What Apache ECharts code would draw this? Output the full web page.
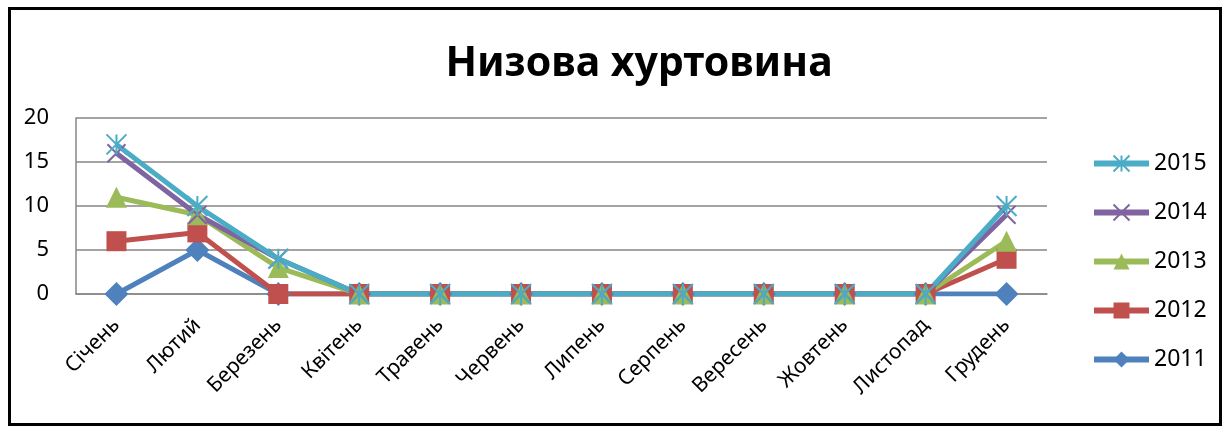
<!DOCTYPE html>
<html>
<head>
<meta charset="utf-8">
<script src="https://cdn.jsdelivr.net/npm/echarts@6/dist/echarts.min.js"></script>
<style>
  html, body { margin: 0; padding: 0; background: #fff; }
  #chart { width: 1228px; height: 426px; }
</style>
</head>
<body>
<div id="chart"></div>
<script>
// Months (Ukrainian)
const months = ['Січень', 'Лютий', 'Березень', 'Квітень', 'Травень', 'Червень',
                'Липень', 'Серпень', 'Вересень', 'Жовтень', 'Листопад', 'Грудень'];

// Number of days with drifting snow per month, by year
const y2011 = [0, 5, 0, 0, 0, 0, 0, 0, 0, 0, 0, 0];
const y2012 = [6, 7, 0, 0, 0, 0, 0, 0, 0, 0, 0, 4];
const y2013 = [11, 9, 3, 0, 0, 0, 0, 0, 0, 0, 0, 6];
const y2014 = [16, 9, 4, 0, 0, 0, 0, 0, 0, 0, 0, 9];
const y2015 = [17, 10, 4, 0, 0, 0, 0, 0, 0, 0, 0, 10];

const yearNames = ['2011', '2012', '2013', '2014', '2015'];
const yTicks = [0, 5, 10, 15, 20];

const FONT = '"Noto Sans", "Open Sans", sans-serif';

const ASTERISK = 'path://M0,0 L10,10 M10,0 L0,10 M5,0 L5,10';
const CROSS = 'path://M0,0 L10,10 M10,0 L0,10';

const colors = {
  '2011': '#4F81BD', '2012': '#C0504D', '2013': '#9BBB59',
  '2014': '#8064A2', '2015': '#4BACC6'
};

function lineSeries(name, data, symbol, size, strokeOnly) {
  const color = colors[name];
  return {
    name: name,
    type: 'line',
    data: data,
    symbol: symbol,
    symbolSize: size,
    showAllSymbol: true,
    lineStyle: { color: color, width: 5 },
    itemStyle: strokeOnly
      ? { color: 'rgba(0,0,0,0)', borderColor: color, borderWidth: 2 }
      : { color: color, borderWidth: 0 },
    emphasis: { disabled: true },
    animation: false
  };
}

const chart = echarts.init(document.getElementById('chart'), null, { renderer: 'canvas' });

chart.setOption({
  backgroundColor: '#ffffff',
  animation: false,
  title: {
    text: 'Низова хуртовина',
    left: 634,
    textAlign: 'center',
    top: 39,
    textStyle: { fontFamily: FONT, fontWeight: 'bold', fontSize: 41, color: '#000' }
  },
  graphic: [{
    type: 'rect',
    shape: { x: 9.5, y: 8.5, width: 1211, height: 416 },
    style: { fill: 'none', stroke: '#000', lineWidth: 3 },
    silent: true,
    z: 100
  }],
  legend: {
    orient: 'vertical',
    left: 1086,
    top: 147,
    itemGap: 26,
    itemWidth: 55,
    itemHeight: 20,
    data: yearNames.slice().reverse().map(n => ({
      name: n,
      lineStyle: { width: 6, color: colors[n] }
    })),
    textStyle: { fontFamily: FONT, fontSize: 23, color: '#000' }
  },
  grid: { left: 76, right: 181, top: 118, bottom: 132 },
  xAxis: {
    type: 'category',
    data: months,
    boundaryGap: true,
    axisLine: { show: true, lineStyle: { color: '#868686', width: 1.5 } },
    axisTick: { show: false },
    axisLabel: {
      rotate: 45,
      interval: 0,
      margin: 28,
      fontFamily: FONT,
      fontSize: 21,
      color: '#000'
    },
    splitLine: { show: false }
  },
  yAxis: {
    type: 'value',
    min: yTicks[0],
    max: yTicks[yTicks.length - 1],
    interval: yTicks[1] - yTicks[0],
    axisLine: { show: true, lineStyle: { color: '#868686', width: 1.5 } },
    axisTick: { show: false },
    axisLabel: { fontFamily: FONT, fontSize: 22, color: '#000', margin: 27 },
    splitLine: { show: true, lineStyle: { color: '#868686', width: 1.5 } }
  },
  series: [
    lineSeries('2011', y2011, 'diamond', 24),
    lineSeries('2012', y2012, 'rect', 20),
    lineSeries('2013', y2013, 'triangle', 21),
    lineSeries('2014', y2014, CROSS, 18, true),
    lineSeries('2015', y2015, ASTERISK, 20, true)
  ]
});
</script>
</body>
</html>
